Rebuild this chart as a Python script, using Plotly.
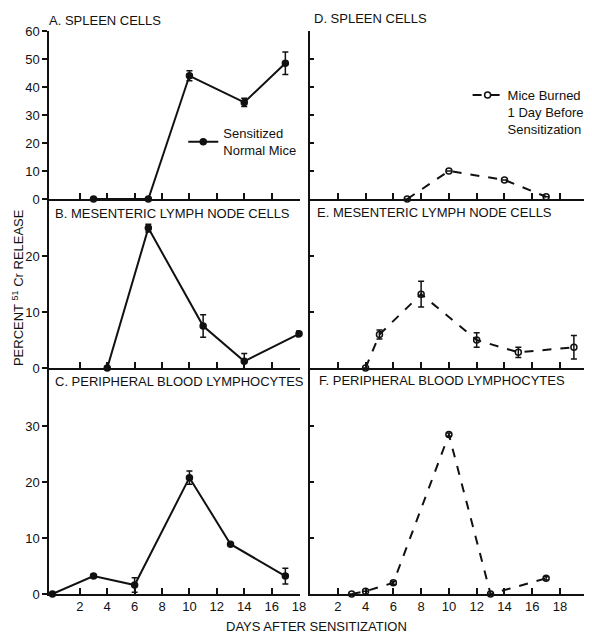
import plotly.graph_objects as go

# ---- data ----
days_A = [3, 7, 10, 14, 17]
vals_A = [0, 0, 44, 34.5, 48.5]
err_A = [0, 0, 1.8, 1.5, 4]

days_B = [4, 7, 11, 14, 18]
vals_B = [0, 25, 7.5, 1.2, 6.1]
err_B = [0, 0.7, 2, 1.4, 0.5]

days_C = [0, 3, 6, 10, 13, 17]
vals_C = [0, 3.2, 1.6, 20.8, 8.9, 3.2]
err_C = [0, 0.3, 1.3, 1.2, 0, 1.4]

days_D = [7, 10, 14, 17]
vals_D = [0, 10, 6.8, 0.8]
err_D = [0, 0, 0, 0]

days_E = [4, 5, 8, 12, 15, 19]
vals_E = [0, 6, 13.2, 5, 2.8, 3.7]
err_E = [0, 0.8, 2.3, 1.3, 0.9, 2.1]

days_F = [3, 4, 6, 10, 13, 17]
vals_F = [0, 0.5, 2, 28.5, 0, 2.8]
err_F = [0, 0, 0.3, 0.3, 0, 0.3]

x_ticks = [2, 4, 6, 8, 10, 12, 14, 16, 18]
yticks_A = [0, 10, 20, 30, 40, 50, 60]
yticks_B = [0, 10, 20]
yticks_C = [0, 10, 20, 30]
yticks_D = [10, 20, 30, 40, 50, 60]
yticks_E = [10, 20]
yticks_F = [10, 20, 30]

panel_titles = ["A. SPLEEN CELLS", "B. MESENTERIC LYMPH NODE CELLS",
                "C. PERIPHERAL BLOOD LYMPHOCYTES", "D. SPLEEN CELLS",
                "E. MESENTERIC LYMPH NODE CELLS", "F. PERIPHERAL BLOOD LYMPHOCYTES"]
legend_normal = "Sensitized<br>Normal Mice"
legend_burned = "Mice Burned<br>1 Day Before<br>Sensitization"

FONT = "Liberation Sans, Arial, sans-serif"
BLACK = "#111111"

fig = go.Figure()

def add_series(x, y, err, axis, solid, name=None, legend=None, show=False):
    fig.add_trace(go.Scatter(
        x=x, y=y, mode="lines+markers",
        xaxis="x" + axis, yaxis="y" + axis,
        line=dict(color=BLACK, width=2, dash="solid" if solid else "dash"),
        marker=dict(symbol="circle" if solid else "circle-open", size=6,
                    color=BLACK, line=dict(color=BLACK, width=1.5)),
        error_y=dict(type="data", array=err, color=BLACK, thickness=1.5, width=3),
        cliponaxis=False, showlegend=show, name=name, legend=legend,
    ))

add_series(days_A, vals_A, err_A, "", True, legend_normal, "legend", True)
add_series(days_B, vals_B, err_B, "2", True)
add_series(days_C, vals_C, err_C, "3", True)
add_series(days_D, vals_D, err_D, "4", False, legend_burned, "legend2", True)
add_series(days_E, vals_E, err_E, "5", False)
add_series(days_F, vals_F, err_F, "6", False)

left_dom = [0, 0.4678]
right_dom = [0.4862, 1]
ydoms = [[0.7016, 1], [0.4014, 0.7016], [0, 0.4014]]
yranges = [[0, 60], [0, 30.2], [0, 40.4]]

tickfont = dict(family=FONT, size=13, color=BLACK)

# page body has an 8px margin: figure is drawn from (8, 8)
layout = dict(
    width=584, height=625,
    margin=dict(l=41, r=0, t=23, b=39),
    paper_bgcolor="white", plot_bgcolor="white",
    font=dict(family=FONT, size=13, color=BLACK),
    legend=dict(x=0.2505, y=0.803, xanchor="left", yanchor="middle",
                bgcolor="rgba(0,0,0,0)", font=dict(size=13), valign="middle"),
    legend2=dict(x=0.781, y=0.913, xanchor="left", yanchor="top",
                 bgcolor="rgba(0,0,0,0)", font=dict(size=13), valign="top"),
)

yt_left = [yticks_A, yticks_B, yticks_C]
yt_right = [yticks_D, yticks_E, yticks_F]

for i in range(6):
    idx = i + 1
    key = "" if idx == 1 else str(idx)
    left = i < 3
    row = i % 3
    xdom = left_dom if left else right_dom
    xr = [-0.25, 18.05] if left else [-0.03, 19.8]
    layout["xaxis" + key] = dict(
        domain=xdom, range=xr, anchor="y" + key,
        showline=True, linecolor=BLACK, linewidth=1.5,
        ticks="inside", ticklen=6, tickwidth=1.5, tickcolor=BLACK,
        tickvals=x_ticks, showticklabels=(row == 2), tickfont=tickfont,
        showgrid=False, zeroline=False, fixedrange=True,
    )
    layout["yaxis" + key] = dict(
        domain=ydoms[row], range=yranges[row], anchor="x" + key,
        showline=True, linecolor=BLACK, linewidth=1.5,
        ticks="outside" if left else "inside", ticklen=5, tickwidth=1.5, tickcolor=BLACK,
        tickvals=yt_left[row] if left else yt_right[row],
        showticklabels=left, tickfont=tickfont,
        showgrid=False, zeroline=False, fixedrange=True,
    )

fig.update_layout(**layout)

# panel titles
title_pos = [(-0.003, 1.0178), (0.0074, 0.6767), (0.0074, 0.3766),
             (0.4899, 1.023), (0.4954, 0.6785), (0.5009, 0.3801)]
for t, (px, py) in zip(panel_titles, title_pos):
    fig.add_annotation(text=t, x=px, y=py, xref="paper", yref="paper",
                       xanchor="left", yanchor="middle", showarrow=False,
                       font=dict(family=FONT, size=13, color=BLACK))

fig.add_annotation(text="PERCENT <sup>51</sup> Cr RELEASE", x=-0.058, y=0.545,
                   xref="paper", yref="paper", textangle=-90, showarrow=False,
                   xanchor="center", yanchor="middle",
                   font=dict(family=FONT, size=13, color=BLACK))
fig.add_annotation(text="DAYS AFTER SENSITIZATION", x=0.499, y=-0.0586,
                   xref="paper", yref="paper", showarrow=False,
                   xanchor="center", yanchor="middle",
                   font=dict(family=FONT, size=13, color=BLACK))

fig.write_html("out.html")
